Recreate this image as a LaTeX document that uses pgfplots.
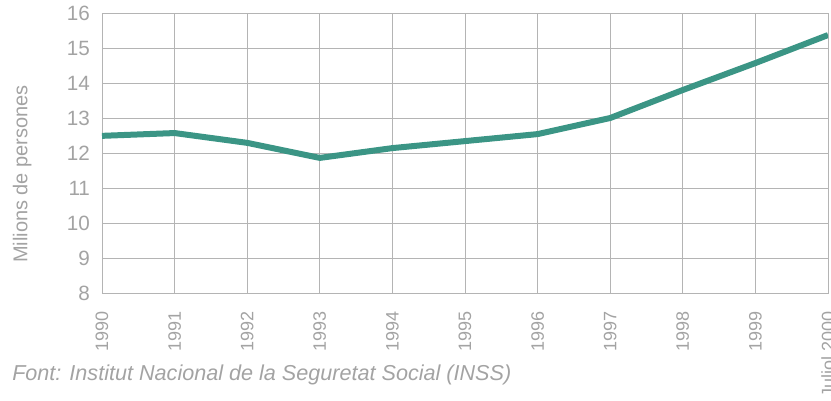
\documentclass[border=0pt]{standalone}
\usepackage{fontspec}
\setmainfont{Liberation Sans}
\usepackage{pgfplots}
\pgfplotsset{compat=1.18}
\definecolor{txtgray}{HTML}{A3A3A3}
\definecolor{gridgray}{HTML}{B4B4B4}
\definecolor{teal1}{HTML}{3B9585}
\begin{document}
\begin{tikzpicture}
\begin{axis}[
    name=ax,
    scale only axis,
    width=544.5pt,
    height=210pt,
    xmin=1990, xmax=2000,
    ymin=8, ymax=16,
    xtick={1990,...,2000},
    xticklabels={1990,1991,1992,1993,1994,1995,1996,1997,1998,1999,Juliol 2000},
    ytick={8,...,16},
    grid=major,
    major grid style={gridgray, line width=0.6pt},
    axis line style={gridgray, line width=0.6pt},
    major tick length=0pt,
    /pgf/number format/assume math mode=true,
    yticklabel style={font=\fontsize{15.5}{15.5}\selectfont, text=txtgray},
    yticklabel shift=5.5pt,
    xticklabel style={font=\fontsize{13.5}{13.5}\selectfont, text=txtgray, rotate=90, anchor=east},
    xticklabel shift=10pt,
    ylabel={Milions de persones},
    ylabel style={at={(axis description cs:-0.11,0.425)}, anchor=center,
        font=\fontsize{15}{15}\selectfont, text=txtgray},
]
\addplot[teal1, line width=4.5pt, line join=round] coordinates {
(1990,12.49)
(1991,12.57)
(1992,12.29)
(1993,11.86)
(1994,12.14)
(1995,12.34)
(1996,12.54)
(1997,13.00)
(1998,13.80)
(1999,14.57)
(2000,15.37)
};
\end{axis}
\node[anchor=west, inner sep=0pt, font=\fontsize{16.2}{16.2}\selectfont\itshape, text=txtgray]
    at ([shift={(-67.5pt,-61.5pt)}]ax.south west) {Font: Institut Nacional de la Seguretat Social (INSS)};
\pgfresetboundingbox
\path ([shift={(-76.5pt,-80.25pt)}]ax.south west) rectangle ([shift={(2.25pt,9.75pt)}]ax.north east);
\end{tikzpicture}
\end{document}
